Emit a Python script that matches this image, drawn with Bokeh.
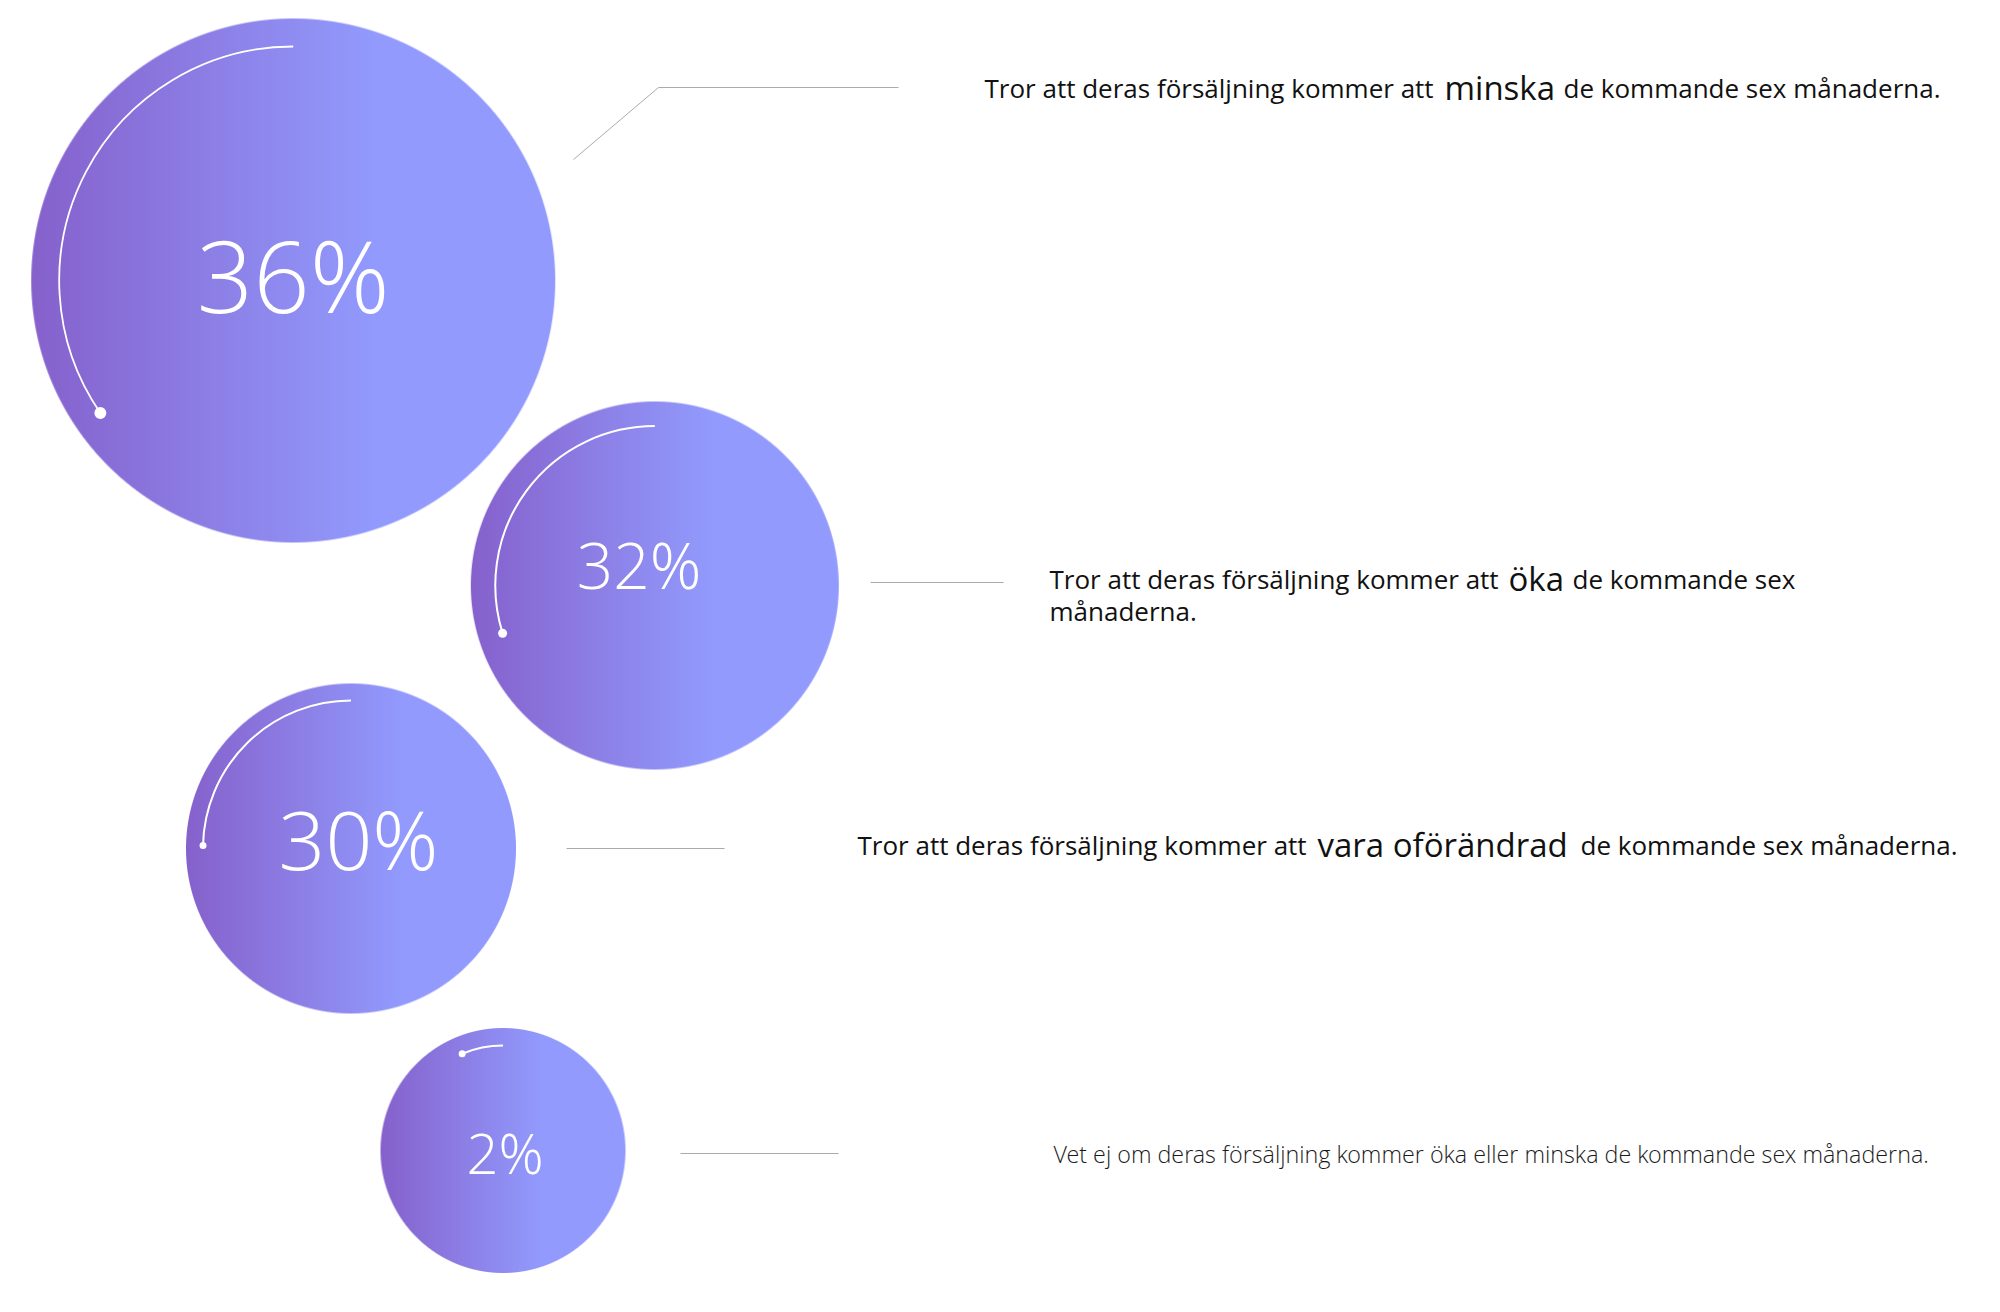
import numpy as np
from bokeh.plotting import figure
from bokeh.models import Range1d
from bokeh.embed import file_html
from bokeh.resources import INLINE
from bokeh.core.properties import value

# ---------------- data ----------------
values = [36, 32, 30, 2]
percent_labels = ["36%", "32%", "30%", "2%"]
arc_degrees = [124.5, 107.4, 88.8, 22.9]   # extent of the white arc

text_lead = ["Tror att deras försäljning kommer att",
             "Tror att deras försäljning kommer att",
             "Tror att deras försäljning kommer att",
             "Vet ej om deras försäljning kommer öka eller minska de kommande sex månaderna."]
text_key = ["minska", "öka", "vara oförändrad", ""]
text_tail = ["de kommande sex månaderna.", "de kommande sex", "de kommande sex månaderna.", ""]
text_line2 = ["", "månaderna.", "", ""]

# ---------------- layout (screen px) ----------------
W, H = 2000, 1312
PW, PH = W - 16, H - 16
cx = [292.7, 654.3, 350.5, 502.5]
cy = [280.0, 585.0, 848.0, 1150.0]
rad = [262.0, 184.0, 165.0, 122.5]
arc_r = [234.0, 159.5, 148.0, 105.0]
arc_w = [1.8, 2.0, 2.0, 2.0]
dot_size = [12, 9, 7, 7]
lab_x = [292.6, 638.5, 358.0, 504.5]
lab_y = [316.0, 591.0, 872.0, 1175.0]
lab_fs = [99, 64, 82, 56]

lead_x = [984, 1049, 857, 1053]
key_x = [1444, 1508, 1317, 0]
tail_x = [1563, 1572, 1580, 0]
base_y = [98, 589, 855, 1163]
line2_y = [0, 621, 0, 0]
BASE_FIX = 0.42   # em offset between requested and drawn baseline

lead_lines = [([573, 658, 898], [159, 87, 87]),
              ([870, 1003], [582, 582]),
              ([566, 724], [848, 848]),
              ([680, 838], [1153, 1153])]

LIGHT = value("Open Sans Light, Open Sans")
REG = value("Open Sans")

def Y(y):
    return H - y

def TY(y, fs):
    return H - (y - BASE_FIX * fs)

p = figure(width=PW, height=PH, output_backend="svg", toolbar_location=None,
           x_range=Range1d(0, PW), y_range=Range1d(H - PH, H),
           min_border=0, background_fill_color="white", border_fill_color="white")
p.axis.visible = False
p.grid.visible = False
p.outline_line_color = None

c0 = np.array([134, 97, 204], dtype=float)
c1 = np.array([146, 154, 253], dtype=float)

for i in range(len(values)):
    R = rad[i]
    n = int(np.ceil(2 * R)) + 4
    x0 = cx[i] - n / 2.0
    y0 = Y(cy[i]) - n / 2.0
    xs = x0 + np.arange(n) + 0.5
    ys = y0 + np.arange(n) + 0.5
    XX, YY = np.meshgrid(xs, ys)
    d = np.sqrt((XX - cx[i]) ** 2 + (YY - Y(cy[i])) ** 2)
    alpha = np.clip(R - d + 0.5, 0, 1)
    t = np.clip((XX - (cx[i] - R)) / (1.3 * R), 0, 1)
    img = np.zeros((n, n, 4), dtype=np.uint8)
    for k in range(3):
        img[:, :, k] = (c0[k] + (c1[k] - c0[k]) * t).astype(np.uint8)
    img[:, :, 3] = (alpha * 255).astype(np.uint8)
    view = img.view(dtype=np.uint32).reshape((n, n))
    p.image_rgba(image=[view], x=x0, y=y0, dw=n, dh=n)

    # white arc + dot
    start = np.pi / 2
    end = start + np.radians(arc_degrees[i])
    p.arc(x=cx[i], y=Y(cy[i]), radius=arc_r[i], start_angle=start, end_angle=end,
          direction="anticlock", line_color="white", line_width=arc_w[i])
    p.scatter(x=[cx[i] + arc_r[i] * np.cos(end)], y=[Y(cy[i]) + arc_r[i] * np.sin(end)],
              size=dot_size[i], color="white", line_color=None)

    # percentage label
    p.text(x=[lab_x[i]], y=[TY(lab_y[i], lab_fs[i])], text=[percent_labels[i]], text_color="white",
           text_font=LIGHT, text_font_size=f"{lab_fs[i]}px",
           text_align="center", text_baseline="alphabetic")

    # leader line
    lx, ly = lead_lines[i]
    p.line(x=lx, y=[Y(v) for v in ly], line_color="#aaaaaa", line_width=1)

    # description
    small = i == 3
    fs_lead = 23.3 if small else 26
    p.text(x=[lead_x[i]], y=[TY(base_y[i], fs_lead)], text=[text_lead[i]],
           text_color="#1a1a1a" if small else "#111111",
           text_font=LIGHT if small else REG, text_font_size=f"{fs_lead}px",
           text_align="left", text_baseline="alphabetic")
    if text_key[i]:
        p.text(x=[key_x[i]], y=[TY(base_y[i], 26)], text=[text_key[i]], text_color="#111111",
               text_font=REG, text_font_size="33px",
               text_align="left", text_baseline="alphabetic")
    if text_tail[i]:
        p.text(x=[tail_x[i]], y=[TY(base_y[i], 26)], text=[text_tail[i]], text_color="#111111",
               text_font=REG, text_font_size="26px",
               text_align="left", text_baseline="alphabetic")
    if text_line2[i]:
        p.text(x=[lead_x[i]], y=[TY(line2_y[i], 26)], text=[text_line2[i]], text_color="#111111",
               text_font=REG, text_font_size="26px",
               text_align="left", text_baseline="alphabetic")

open("out.html", "w").write(file_html(p, INLINE))
